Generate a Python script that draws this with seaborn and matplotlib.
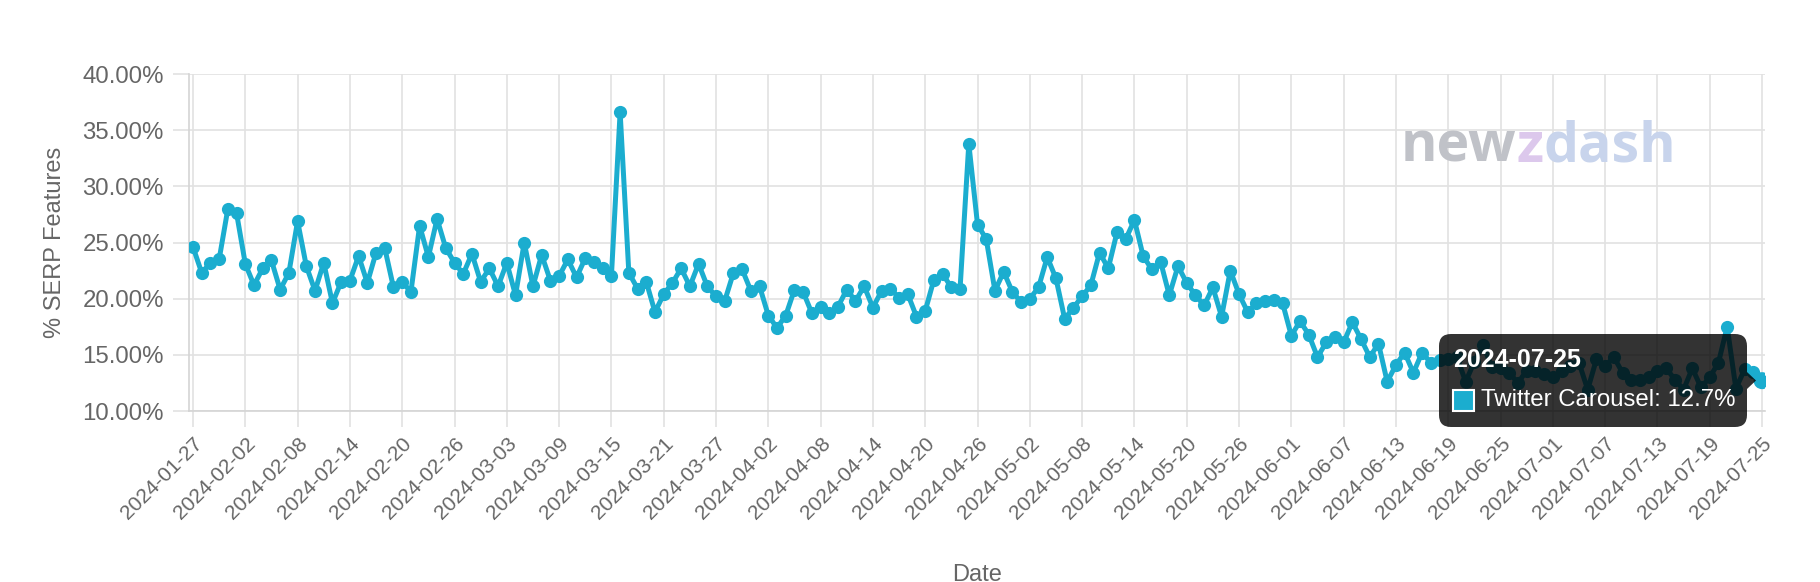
import matplotlib
matplotlib.use('Agg')
import matplotlib.pyplot as plt
from matplotlib.patches import FancyBboxPatch, Rectangle, Polygon
from matplotlib.transforms import IdentityTransform
import seaborn as sns
import pandas as pd

# data (daily share, %)
start_date = '2024-01-27'
end_date = '2024-07-25'
twitter_carousel = [
    24.6, 22.3, 23.2, 23.5, 28.0, 27.6, 23.1, 21.2, 22.7, 23.4,
    20.8, 22.3, 26.9, 22.9, 20.7, 23.2, 19.6, 21.5, 21.6, 23.8,
    21.4, 24.1, 24.5, 21.0, 21.5, 20.6, 26.5, 23.7, 27.1, 24.5,
    23.2, 22.2, 24.0, 21.5, 22.7, 21.1, 23.2, 20.3, 25.0, 21.1,
    23.9, 21.6, 22.0, 23.5, 21.9, 23.6, 23.3, 22.7, 22.0, 36.6,
    22.3, 20.9, 21.5, 18.8, 20.4, 21.4, 22.7, 21.1, 23.1, 21.1,
    20.2, 19.8, 22.3, 22.6, 20.7, 21.1, 18.5, 17.4, 18.5, 20.8,
    20.6, 18.7, 19.3, 18.7, 19.3, 20.8, 19.8, 21.1, 19.2, 20.7,
    20.9, 20.1, 20.4, 18.4, 18.9, 21.7, 22.2, 21.0, 20.9, 33.8,
    26.6, 25.3, 20.7, 22.4, 20.6, 19.7, 20.0, 21.0, 23.7, 21.8,
    18.2, 19.2, 20.2, 21.2, 24.1, 22.7, 25.9, 25.3, 27.0, 23.8,
    22.6, 23.3, 20.3, 22.9, 21.4, 20.3, 19.4, 21.0, 18.4, 22.5,
    20.4, 18.8, 19.6, 19.8, 19.9, 19.6, 16.7, 18.0, 16.8, 14.8,
    16.1, 16.6, 16.1, 17.9, 16.4, 14.8, 16.0, 12.6, 14.1, 15.2,
    13.4, 15.2, 14.3, 14.5, 14.6, 14.8, 12.6, 14.4, 15.9, 13.9,
    13.8, 13.4, 12.5, 13.6, 13.6, 13.3, 13.0, 13.6, 14.0, 14.3,
    11.9, 14.6, 14.0, 14.8, 13.4, 12.8, 12.8, 13.0, 13.6, 13.8,
    12.8, 11.9, 13.8, 12.1, 13.0, 14.3, 17.5, 12.0, 13.7, 13.5,
    12.7,
]
y_ticks = [10, 15, 20, 25, 30, 35, 40]
tick_every = 6
series_name = 'Twitter Carousel'

dates = pd.date_range(start_date, end_date, freq='D')
df = pd.DataFrame({'Date': dates, 'share': twitter_carousel})

line_color = '#1badcf'
grid_color = '#e2e2e2'
text_color = '#666666'

sns.set_theme(style='white')
plt.rcParams['font.family'] = ['Liberation Sans', 'DejaVu Sans']

W, H = 1820, 582
fig = plt.figure(figsize=(W / 100, H / 100), dpi=100)
ax = fig.add_axes([189 / W, 1 - 411 / H, (1765 - 189) / W, (411 - 74) / H])

sns.lineplot(data=df, x='Date', y='share', ax=ax, color=line_color,
             linewidth=3.6, marker='o', markersize=9.5, markeredgewidth=0,
             zorder=3, legend=False)
# hovered point
last = df.iloc[-1]
ax.scatter([last['Date']], [last['share']], s=150, color=line_color,
           edgecolor='none', zorder=4)

t0 = pd.Timestamp(start_date)
ax.set_xlim(t0 - pd.Timedelta(hours=11), t0 + pd.Timedelta(days=180.34))
ax.set_ylim(10, 40)
ax.set_yticks(y_ticks)
ax.set_yticklabels([f'{v:.2f}%' for v in y_ticks])
xt = dates[::tick_every]
ax.set_xticks(xt)
ax.set_xticklabels([d.strftime('%Y-%m-%d') for d in xt], rotation=45,
                   ha='right', rotation_mode='anchor')
ax.set_xlabel('')
ax.set_ylabel('')

ax.grid(True, color=grid_color, linewidth=1.2)
ax.tick_params(axis='both', bottom=True, left=True, length=11.5, width=1.2,
               color=grid_color, labelcolor=text_color)
ax.tick_params(axis='y', pad=6.5, labelsize=17.3)
ax.tick_params(axis='x', pad=5, labelsize=15)
for s in ['top', 'right']:
    ax.spines[s].set_visible(False)
for s in ['left', 'bottom']:
    ax.spines[s].set_color('#d4d4d4')
    ax.spines[s].set_linewidth(1.2)

fig.text(55 / W, 1 - 242 / H, '% SERP Features', rotation=90, ha='center',
         va='center', fontsize=17, color=text_color)
fig.text(977 / W, 1 - 581 / H, 'Date', ha='center', va='baseline',
         fontsize=17, color=text_color)

# watermark
renderer = fig.canvas.get_renderer()
x = 1401
for part, col in [('new', '#c0c2c8'), ('z', '#dcc8ec'), ('dash', '#c8d4ec')]:
    t = fig.text(x, H - 162, part, transform=IdentityTransform(),
                 fontsize=40, fontweight='bold', family='Open Sans',
                 color=col, ha='left', va='baseline', zorder=0.5)
    x = t.get_window_extent(renderer).x1

# tooltip
ident = IdentityTransform()
box = FancyBboxPatch((1439, H - 427), 308, 93,
                     boxstyle='round,pad=0,rounding_size=12',
                     facecolor=(0, 0, 0, 0.8), edgecolor='none',
                     transform=ident, zorder=5)
fig.add_artist(box)
fig.add_artist(Polygon([(1747, H - 372), (1756, H - 380.5), (1747, H - 389)],
                       closed=True, facecolor=(0, 0, 0, 0.8),
                       edgecolor='none', transform=ident, zorder=5))
fig.text(1453, H - 360, end_date, transform=ident, ha='left', va='center',
         fontsize=18, fontweight='bold', color='white', zorder=6)
fig.add_artist(Rectangle((1453, H - 411), 21, 21, facecolor=line_color,
                         edgecolor='white', linewidth=1.5, transform=ident,
                         zorder=6))
fig.text(1481, H - 400.5, f'{series_name}: {twitter_carousel[-1]}%',
         transform=ident, ha='left', va='center', fontsize=17.3,
         color='white', zorder=6)

fig.savefig('out.png', dpi=100)
